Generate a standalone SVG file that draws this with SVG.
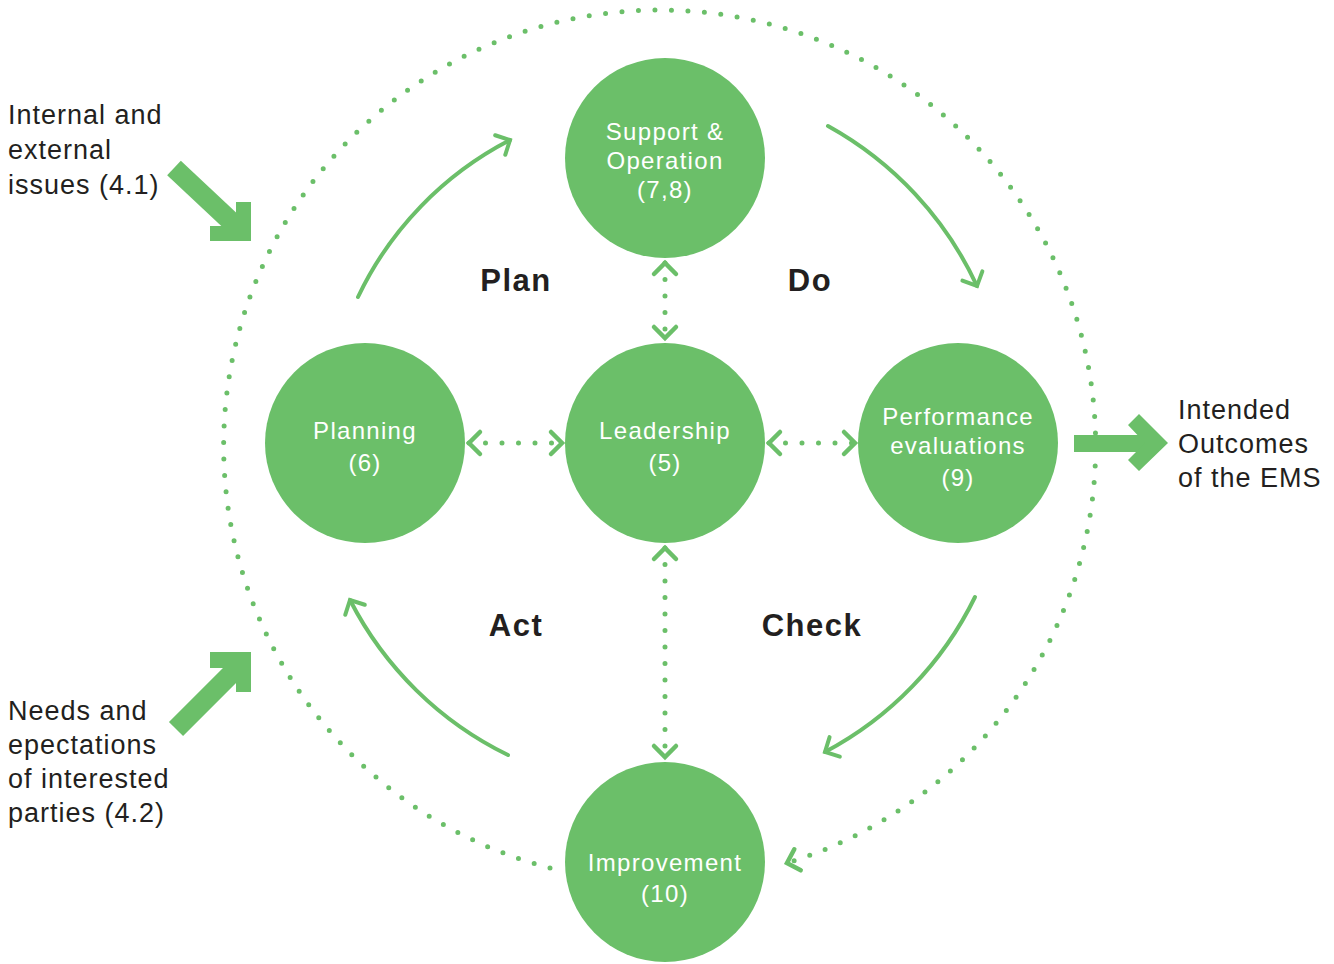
<svg xmlns="http://www.w3.org/2000/svg" width="1334" height="964" viewBox="0 0 1334 964">
<style>
.node{fill:#6bbf69}
.nt{font-family:"Liberation Sans",Arial,sans-serif;font-size:24px;fill:#fff;text-anchor:middle;letter-spacing:1.3px}
.side{font-family:"Liberation Sans",Arial,sans-serif;font-size:27px;fill:#231f20;letter-spacing:1px}
.pdca{font-family:"Liberation Sans",Arial,sans-serif;font-size:31px;font-weight:bold;fill:#231f20;text-anchor:middle;letter-spacing:1.5px}
.dots{fill:none;stroke:#6bbf69;stroke-width:5;stroke-linecap:round;stroke-dasharray:0 16.5}
.arc{fill:none;stroke:#6bbf69;stroke-width:4;stroke-linecap:round}
.big{fill:#6bbf69}
</style>
<defs>
<marker id="chev" markerUnits="userSpaceOnUse" orient="auto-start-reverse" markerWidth="30" markerHeight="30" refX="0" refY="0" viewBox="-15 -15 30 30" overflow="visible">
<path d="M-11,-11 L0,0 L-11,11" fill="none" stroke="#6bbf69" stroke-width="4.5" stroke-linecap="round" stroke-linejoin="miter"/>
</marker>
<marker id="head" markerUnits="userSpaceOnUse" orient="auto" markerWidth="30" markerHeight="30" refX="0" refY="0" viewBox="-15 -15 30 30" overflow="visible">
<path d="M-11,-11 L0,0 L-11,11" fill="none" stroke="#6bbf69" stroke-width="4" stroke-linecap="round"/>
</marker>
</defs>
<g id="connectors">
<path class="dots" d="M550,868 A436,436 0 1 1 787,863" marker-end="url(#chev)"/>
<line class="dots" x1="665" y1="263" x2="665" y2="338" marker-start="url(#chev)" marker-end="url(#chev)"/>
<line class="dots" x1="665" y1="548" x2="665" y2="757" marker-start="url(#chev)" marker-end="url(#chev)"/>
<line class="dots" x1="469" y1="443" x2="562" y2="443" marker-start="url(#chev)" marker-end="url(#chev)"/>
<line class="dots" x1="769" y1="443" x2="855" y2="443" marker-start="url(#chev)" marker-end="url(#chev)"/>
<path class="arc" d="M358,297 A342,342 0 0 1 510,140" marker-end="url(#head)"/>
<path class="arc" d="M828,126 A352,352 0 0 1 977,286" marker-end="url(#head)"/>
<path class="arc" d="M975,597 A348,348 0 0 1 825,752" marker-end="url(#head)"/>
<path class="arc" d="M508,755 A350,350 0 0 1 350,600" marker-end="url(#head)"/>
</g>
<g id="arrow-issues">
<line x1="174" y1="168" x2="238" y2="228" stroke="#6bbf69" stroke-width="20"/>
<polygon class="big" points="210,226 236,226 236,202 251,202 251,241 210,241"/>
</g>
<g id="arrow-needs">
<line x1="176" y1="729" x2="240" y2="665" stroke="#6bbf69" stroke-width="20"/>
<polygon class="big" points="210,652 251,652 251,692 236,692 236,668 210,668"/>
</g>
<g id="arrow-outcomes">
<rect class="big" x="1074" y="435" width="76" height="17"/>
<polygon class="big" points="1128,425 1139,414 1168,443 1139,471 1128,460 1145,443"/>
</g>
<g id="node-support">
<circle class="node" cx="665" cy="158" r="100"/>
<text class="nt" x="665" y="140">Support &amp;</text>
<text class="nt" x="665" y="169">Operation</text>
<text class="nt" x="665" y="198">(7,8)</text>
</g>
<g id="node-planning">
<circle class="node" cx="365" cy="443" r="100"/>
<text class="nt" x="365" y="439">Planning</text>
<text class="nt" x="365" y="471">(6)</text>
</g>
<g id="node-leadership">
<circle class="node" cx="665" cy="443" r="100"/>
<text class="nt" x="665" y="439">Leadership</text>
<text class="nt" x="665" y="471">(5)</text>
</g>
<g id="node-performance">
<circle class="node" cx="958" cy="443" r="100"/>
<text class="nt" x="958" y="425">Performance</text>
<text class="nt" x="958" y="454">evaluations</text>
<text class="nt" x="958" y="486">(9)</text>
</g>
<g id="node-improvement">
<circle class="node" cx="665" cy="862" r="100"/>
<text class="nt" x="665" y="871">Improvement</text>
<text class="nt" x="665" y="902">(10)</text>
</g>
<g id="labels">
<text class="pdca" x="516" y="291">Plan</text>
<text class="pdca" x="810" y="291">Do</text>
<text class="pdca" x="516" y="636">Act</text>
<text class="pdca" x="812" y="636">Check</text>
<text class="side" x="8" y="124">Internal and</text>
<text class="side" x="8" y="159">external</text>
<text class="side" x="8" y="194">issues (4.1)</text>
<text class="side" x="8" y="720">Needs and</text>
<text class="side" x="8" y="754">epectations</text>
<text class="side" x="8" y="788">of interested</text>
<text class="side" x="8" y="822">parties (4.2)</text>
<text class="side" x="1178" y="419">Intended</text>
<text class="side" x="1178" y="453">Outcomes</text>
<text class="side" x="1178" y="487">of the EMS</text>
</g>
</svg>
